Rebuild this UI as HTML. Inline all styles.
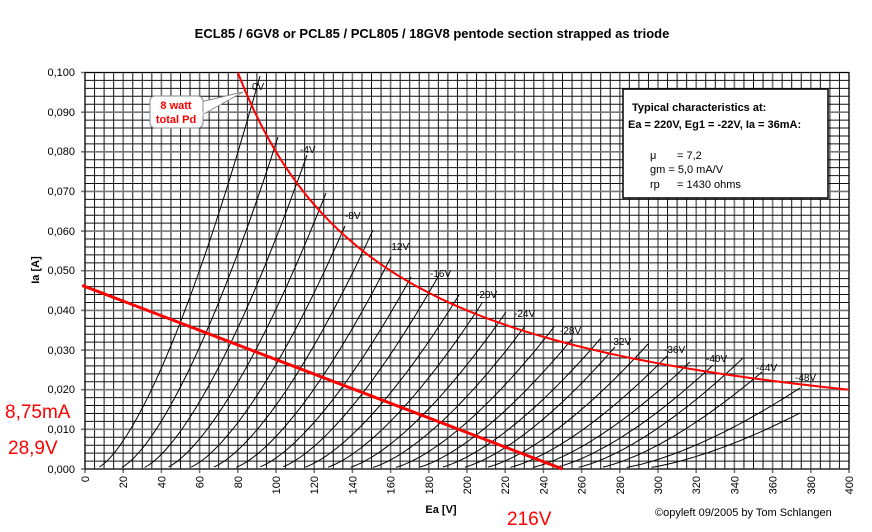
<!DOCTYPE html>
<html><head><meta charset="utf-8"><style>
html,body{margin:0;padding:0;background:#fff;}
svg{display:block;font-family:"Liberation Sans",Arial,sans-serif;}
</style></head><body>
<svg id="s" width="872" height="532" viewBox="0 0 872 532" xmlns="http://www.w3.org/2000/svg">
<rect width="872" height="532" fill="#fff"/>
<g id="grid"></g>
<g id="curves" fill="none" stroke="#000" stroke-width="1"></g>
<g id="red" fill="none" stroke="#f00"></g>
<text x="432" y="38" text-anchor="middle" font-size="13" font-weight="bold">ECL85 / 6GV8 or PCL85 /  PCL805 / 18GV8 pentode section strapped as triode</text>
<g font-size="11" text-anchor="end">
<text x="75" y="76">0,100</text><text x="75" y="116">0,090</text><text x="75" y="155">0,080</text><text x="75" y="195">0,070</text><text x="75" y="235">0,060</text><text x="75" y="274">0,050</text><text x="75" y="314">0,040</text><text x="75" y="354">0,030</text><text x="75" y="393">0,020</text><text x="75" y="433">0,010</text><text x="75" y="473">0,000</text>
</g>
<g id="xl" font-size="11"></g>
<text transform="translate(39,270) rotate(-90)" text-anchor="middle" font-size="11" font-weight="bold">Ia [A]</text>
<text x="441" y="513" text-anchor="middle" font-size="11" font-weight="bold">Ea [V]</text>
<text x="655" y="516" font-size="11">©opyleft 09/2005 by Tom Schlangen</text>
<g fill="#f00" font-size="19">
<text x="5" y="418">8,75mA</text>
<text x="8" y="454">28,9V</text>
<text x="507" y="525">216V</text>
</g>
<g font-size="10">
<text x="252" y="90">0V</text><text x="300" y="153">-4V</text><text x="345" y="219">-8V</text><text x="388" y="250">-12V</text><text x="430" y="277">-16V</text><text x="476" y="298">-20V</text><text x="514" y="317">-24V</text><text x="560" y="334">-28V</text><text x="610" y="345">-32V</text><text x="664" y="353">-36V</text><text x="706" y="362">-40V</text><text x="756" y="371">-44V</text><text x="795" y="381">-48V</text>
</g>
<path d="M196,103 L243,92 L202,115" fill="#fff" stroke="#888" stroke-width="1"/>
<rect x="150" y="96" width="53" height="32" rx="5" fill="#fff" stroke="#888"/>
<path d="M199,104 L202,115" stroke="#fff" stroke-width="3"/>
<g fill="#f00" font-size="11" font-weight="bold" text-anchor="middle">
<text x="176" y="109">8 watt</text><text x="176" y="123">total Pd</text>
</g>
<rect x="623" y="89" width="205" height="109" fill="#fff" stroke="#000" stroke-width="1.5"/>
<g font-size="11">
<text x="632" y="111" font-weight="bold">Typical characteristics at:</text>
<text x="628" y="128" font-weight="bold">Ea = 220V, Eg1 = -22V, Ia = 36mA:</text>
<text x="650" y="159">μ</text><text x="677" y="159">= 7,2</text>
<text x="650" y="173">gm  = 5,0 mA/V</text>
<text x="650" y="188">rp</text><text x="677" y="188">= 1430 ohms</text>
</g>
</svg>
<script>
const NS="http://www.w3.org/2000/svg";
const X=v=>85+1.91*v, Y=i=>469-3.965*i;
function el(p,t,a){const e=document.createElementNS(NS,t);for(const k in a)e.setAttribute(k,a[k]);p.appendChild(e);return e;}
const g=document.getElementById('grid');
for(let k=0;k<=80;k++){const x=X(k*5);el(g,'line',{x1:x,y1:Y(100),x2:x,y2:469+(k%4==0?4:0),stroke:(k%4==0?'#777':'#111'),'stroke-width':(k%4==0?1.6:1)});}
for(let k=0;k<=50;k++){const y=Y(k*2);el(g,'line',{x1:X(0)-(k%5==0?4:0),y1:y,x2:X(400),y2:y,stroke:(k%5==0?'#777':'#111'),'stroke-width':(k%5==0?1.6:1)});}
el(g,'rect',{x:X(0),y:Y(100),width:X(400)-X(0),height:469-Y(100),fill:'none',stroke:'#000'});
const xl=document.getElementById('xl');
for(let v=0;v<=400;v+=20){const t=el(xl,'text',{transform:`translate(${X(v)+4},476) rotate(-90)`,'text-anchor':'end'});t.textContent=v;}
const ends={0:[260,76],1:[278,137],2:[307,155],3:[326,193],4:[345,226],5:[373,230],6:[391,257],7:[411,277],8:[439,275],9:[459,295],10:[482,303],11:[506,312],12:[525,326],13:[554,327],14:[572,339],15:[601,338],16:[615,347],17:[648,344],18:[667,356],19:[690,362],20:[713,365],21:[743,358],22:[762,372],23:[800,388],24:[800,413]};
const cg=document.getElementById('curves');
for(let n=0;n<=24;n++){
 const e=ends[n];
 const Ee=(e[0]-85)/1.91, Ie=(469-e[1])/3.965;
 const s=5+11.8*n;
 let d='';
 for(let k=0;k<=60;k++){
  const ea=s+(Ee-s)*Math.pow(k/60,1.3);
  const ia=Ie*Math.pow((ea-s)/(Ee-s),1.5);
  if(ia<0.4&&k<60)continue;
  d+=(d?'L':'M')+X(ea).toFixed(1)+','+Y(ia).toFixed(1);
 }
 el(cg,'path',{d});
}
const rg=document.getElementById('red');
let d='';
for(let v=80;v<=400;v+=4){d+=(d?'L':'M')+X(v).toFixed(1)+','+Y(8000/v).toFixed(1);}
el(rg,'path',{d,'stroke-width':2});
el(rg,'path',{d:`M${X(-1.5)},${Y(46.3)}L${X(250)},${Y(0)}`,'stroke-width':3});
</script>
</body></html>
